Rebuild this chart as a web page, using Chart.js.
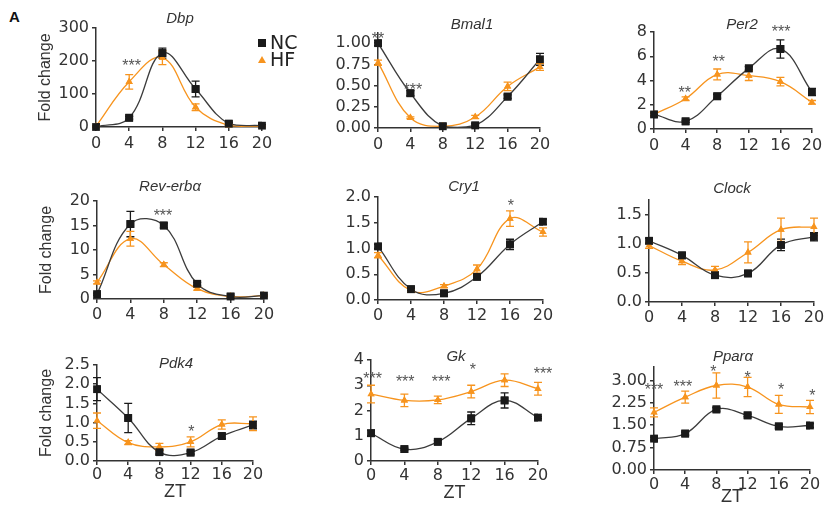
<!DOCTYPE html>
<html>
<head>
<meta charset="utf-8">
<script src="https://cdn.jsdelivr.net/npm/chart.js@4"></script>
<style>
  body { margin: 0; width: 824px; height: 512px; position: relative; overflow: hidden; background: #fff; font-family: "Liberation Sans", Arial, sans-serif; }
  canvas { position: absolute; }
  #panel-label { position: absolute; left: 9px; top: 8px; font-size: 15px; font-weight: bold; color: #111; }
</style>
</head>
<body>
<div id="panel-label">A</div>
<script>
// ZT sampling times (x axis)
const ZT = [0, 4, 8, 12, 16, 20];

// Dbp
const dbpNC = [0, 28, 224, 115, 10, 4];
const dbpNCErr = [0, 4, 15, 24, 4, 3];
const dbpHF = [2, 137, 210, 60, 5, 2];
const dbpHFErr = [2, 22, 21, 10, 2, 1];
const dbpStars = [[4.3, 198, '***']];

// Bmal1
const bmalNC = [1.0, 0.41, 0.02, 0.03, 0.37, 0.81];
const bmalNCErr = [0.03, 0.03, 0.01, 0.02, 0.02, 0.07];
const bmalHF = [0.77, 0.12, 0.02, 0.13, 0.49, 0.72];
const bmalHFErr = [0.03, 0.01, 0.01, 0.02, 0.05, 0.04];
const bmalStars = [[0, 1.1, '**'], [4.3, 0.5, '***']];

// Per2
const per2NC = [1.2, 0.63, 2.7, 5.0, 6.6, 3.05];
const per2NCErr = [0.1, 0.08, 0.15, 0.15, 0.75, 0.3];
const per2HF = [1.2, 2.5, 4.5, 4.4, 3.9, 2.2];
const per2HFErr = [0.1, 0.15, 0.45, 0.4, 0.35, 0.15];
const per2Stars = [[3.9, 3.3, '**'], [8.2, 5.85, '**'], [16.1, 8.3, '***']];

// Rev-erbα
const revNC = [1.0, 15.3, 15.0, 3.1, 0.5, 0.7];
const revNCErr = [0.2, 2.6, 0.5, 0.3, 0.1, 0.1];
const revHF = [3.4, 12.3, 7.0, 2.1, 0.5, 0.7];
const revHFErr = [0.3, 1.5, 0.4, 0.3, 0.1, 0.1];
const revStars = [[7.9, 17.8, '***']];

// Cry1
const cry1NC = [1.04, 0.21, 0.13, 0.45, 1.08, 1.52];
const cry1NCErr = [0.04, 0.02, 0.02, 0.03, 0.1, 0.05];
const cry1HF = [0.87, 0.18, 0.27, 0.6, 1.58, 1.32];
const cry1HFErr = [0.05, 0.02, 0.03, 0.08, 0.15, 0.08];
const cry1Stars = [[16.1, 1.9, '*']];

// Clock
const clockNC = [1.05, 0.8, 0.46, 0.49, 0.98, 1.12];
const clockNCErr = [0.04, 0.04, 0.03, 0.04, 0.1, 0.07];
const clockHF = [0.97, 0.7, 0.55, 0.85, 1.24, 1.29];
const clockHFErr = [0.05, 0.06, 0.06, 0.18, 0.2, 0.15];
const clockStars = [];

// Pdk4
const pdk4NC = [1.87, 1.12, 0.23, 0.22, 0.65, 0.94];
const pdk4NCErr = [0.3, 0.38, 0.05, 0.04, 0.07, 0.1];
const pdk4HF = [1.05, 0.48, 0.37, 0.5, 0.95, 0.97];
const pdk4HFErr = [0.2, 0.05, 0.09, 0.13, 0.12, 0.18];
const pdk4Stars = [[12.1, 0.86, '*']];

// Gk
const gkNC = [1.1, 0.47, 0.76, 1.69, 2.4, 1.72];
const gkNCErr = [0.12, 0.04, 0.05, 0.25, 0.3, 0.04];
const gkHF = [2.65, 2.4, 2.42, 2.75, 3.2, 2.86];
const gkHFErr = [0.35, 0.25, 0.15, 0.25, 0.25, 0.25];
const gkStars = [[0.2, 3.4, '***'], [4.1, 3.3, '***'], [8.4, 3.3, '***'], [12.2, 3.75, '*'], [20.6, 3.6, '***']];

// Pparα
const pparNC = [1.05, 1.22, 2.03, 1.83, 1.46, 1.49];
const pparNCErr = [0.05, 0.05, 0.06, 0.04, 0.06, 0.06];
const pparHF = [1.93, 2.44, 2.83, 2.78, 2.2, 2.11];
const pparHFErr = [0.15, 0.2, 0.42, 0.32, 0.3, 0.22];
const pparStars = [[0, 2.8, '***'], [3.7, 2.9, '***'], [7.6, 3.43, '*'], [12, 3.23, '*'], [16.3, 2.8, '*'], [20.3, 2.6, '*']];

const NC_COLOR = '#1a1a1a';
const NC_LINE = '#3c3c3c';
const HF_COLOR = '#f7941e';
const AXIS_COLOR = '#333';

const panels = [
    { title: 'Dbp', nc: dbpNC, ncErr: dbpNCErr, hf: dbpHF, hfErr: dbpHFErr, stars: dbpStars,
      max: 300, step: 100, dec: 0, x0: 96, x20: 262, top: 28, bottom: 127, xH: 30, tickPad: 3,
      yTitle: true, titleAt: [180, 19], legend: true, padR: 48 },
    { title: 'Bmal1', nc: bmalNC, ncErr: bmalNCErr, hf: bmalHF, hfErr: bmalHFErr, stars: bmalStars,
      max: 1.12, step: 0.25, dec: 2, x0: 378, x20: 540, top: 33, bottom: 128, xH: 30, tickPad: 3,
      titleAt: [472, 25] },
    { title: 'Per2', nc: per2NC, ncErr: per2NCErr, hf: per2HF, hfErr: per2HFErr, stars: per2Stars,
      max: 8, step: 2, dec: 0, x0: 654, x20: 812, top: 32, bottom: 129, xH: 30, tickPad: 3,
      titleAt: [742, 25] },
    { title: 'Rev-erbα', nc: revNC, ncErr: revNCErr, hf: revHF, hfErr: revHFErr, stars: revStars,
      max: 20, step: 5, dec: 0, x0: 97, x20: 264, top: 201, bottom: 299, xH: 30, tickPad: 2,
      yTitle: true, titleAt: [170, 187] },
    { title: 'Cry1', nc: cry1NC, ncErr: cry1NCErr, hf: cry1HF, hfErr: cry1HFErr, stars: cry1Stars,
      max: 2, step: 0.5, dec: 1, x0: 378, x20: 543, top: 197, bottom: 300, xH: 30, tickPad: 2,
      titleAt: [464, 187] },
    { title: 'Clock', nc: clockNC, ncErr: clockNCErr, hf: clockHF, hfErr: clockHFErr, stars: clockStars,
      max: 1.75, step: 0.5, dec: 1, x0: 649, x20: 814, top: 200, bottom: 302, xH: 30, tickPad: 2,
      titleAt: [732, 189] },
    { title: 'Pdk4', nc: pdk4NC, ncErr: pdk4NCErr, hf: pdk4HF, hfErr: pdk4HFErr, stars: pdk4Stars,
      max: 2.5, step: 0.5, dec: 1, x0: 97, x20: 253, top: 365, bottom: 461, xH: 46, tickPad: 0,
      yTitle: true, xTitle: true, titleAt: [176, 364] },
    { title: 'Gk', nc: gkNC, ncErr: gkNCErr, hf: gkHF, hfErr: gkHFErr, stars: gkStars,
      max: 4, step: 1, dec: 0, x0: 371, x20: 538, top: 360, bottom: 461, xH: 47, tickPad: 1,
      xTitle: true, titleAt: [456, 357] },
    { title: 'Pparα', nc: pparNC, ncErr: pparNCErr, hf: pparHF, hfErr: pparHFErr, stars: pparStars,
      max: 3.45, step: 0.75, dec: 2, x0: 654, x20: 810, top: 367, bottom: 470, xH: 42, tickPad: 1,
      xTitle: true, titleAt: [733, 357] }
];

const Y_W = 64;
const PAD_T = 34;

// error bars, redrawn markers, stars, gene title and legend
const extras = {
    id: 'extras',
    afterDatasetsDraw(chart, args, opts) {
        const ctx = chart.ctx;
        const y = chart.scales.y;
        ctx.save();
        chart.data.datasets.forEach((ds, di) => {
            const meta = chart.getDatasetMeta(di);
            ctx.strokeStyle = ds.pointBackgroundColor;
            ctx.lineWidth = 1.3;
            meta.data.forEach((pt, i) => {
                const v = ds.data[i].y, e = ds.errors[i];
                if (!e) return;
                const y1 = y.getPixelForValue(v + e), y2 = y.getPixelForValue(Math.max(v - e, 0));
                ctx.beginPath();
                ctx.moveTo(pt.x, y1); ctx.lineTo(pt.x, y2);
                ctx.moveTo(pt.x - 4, y1); ctx.lineTo(pt.x + 4, y1);
                ctx.moveTo(pt.x - 4, y2); ctx.lineTo(pt.x + 4, y2);
                ctx.stroke();
            });
        });
        // markers again without the clip
        for (let di = chart.data.datasets.length - 1; di >= 0; di--) {
            chart.getDatasetMeta(di).data.forEach(pt => pt.draw(ctx));
        }

        ctx.fillStyle = '#555';
        ctx.font = '16px "Liberation Sans", Arial, sans-serif';
        ctx.textAlign = 'center';
        ctx.textBaseline = 'alphabetic';
        opts.stars.forEach(s => {
            ctx.fillText(s[2], chart.scales.x.getPixelForValue(s[0]), y.getPixelForValue(s[1]) + 9);
        });

        ctx.fillStyle = '#333';
        ctx.font = 'italic 15px "Liberation Sans", Arial, sans-serif';
        ctx.textBaseline = 'middle';
        ctx.fillText(opts.title, opts.titleAt[0] - opts.left, opts.titleAt[1] - opts.top);

        if (opts.legend) {
            const lx = 262 - opts.left, ly1 = 43 - opts.top, ly2 = 60 - opts.top;
            ctx.fillStyle = NC_COLOR;
            ctx.fillRect(lx - 4, ly1 - 4, 8, 8);
            ctx.fillStyle = HF_COLOR;
            ctx.beginPath();
            ctx.moveTo(lx, ly2 - 4); ctx.lineTo(lx + 4, ly2 + 3); ctx.lineTo(lx - 4, ly2 + 3);
            ctx.closePath(); ctx.fill();
            ctx.fillStyle = '#222';
            ctx.font = '19px "DejaVu Sans", sans-serif';
            ctx.textAlign = 'left';
            ctx.fillText('NC', lx + 8, ly1 + 1);
            ctx.fillText('HF', lx + 8, ly2 + 1);
        }
        ctx.restore();
    }
};

const tickFont = { family: '"DejaVu Sans", sans-serif', size: 16 };

panels.forEach(p => {
    const canvas = document.createElement('canvas');
    const padR = p.padR || 14;
    const left = p.x0 - Y_W;
    const top = p.top - PAD_T;
    const width = p.x20 + padR - left;
    const height = p.bottom + p.xH - top;
    canvas.width = width;
    canvas.height = height;
    canvas.style.left = left + 'px';
    canvas.style.top = top + 'px';
    canvas.style.width = width + 'px';
    canvas.style.height = height + 'px';
    document.body.appendChild(canvas);

    const toPoints = arr => ZT.map((x, i) => ({ x: x, y: arr[i] }));

    new Chart(canvas, {
        type: 'line',
        data: {
            datasets: [{
                label: 'NC',
                data: toPoints(p.nc),
                errors: p.ncErr,
                borderColor: NC_LINE,
                borderWidth: 1.3,
                pointStyle: 'rect',
                pointRadius: 5.5,
                pointBackgroundColor: NC_COLOR,
                pointBorderColor: NC_COLOR,
                pointBorderWidth: 0,
                tension: 0.4,
                clip: 0
            }, {
                label: 'HF',
                data: toPoints(p.hf),
                errors: p.hfErr,
                borderColor: HF_COLOR,
                borderWidth: 1.3,
                pointStyle: 'triangle',
                pointRadius: 4.2,
                pointBackgroundColor: HF_COLOR,
                pointBorderColor: HF_COLOR,
                pointBorderWidth: 0,
                tension: 0.4,
                clip: 0
            }]
        },
        options: {
            responsive: false,
            animation: false,
            devicePixelRatio: 1,
            layout: { padding: { top: PAD_T, right: padR, left: 0, bottom: 0 } },
            scales: {
                x: {
                    type: 'linear',
                    min: 0,
                    max: 20,
                    ticks: { stepSize: 4, font: tickFont, color: '#333', padding: p.tickPad, maxRotation: 0, autoSkip: false },
                    grid: { drawOnChartArea: false, drawTicks: true, tickLength: 4, color: AXIS_COLOR, lineWidth: 1.5 },
                    border: { color: AXIS_COLOR, width: 1.5 },
                    title: {
                        display: !!p.xTitle,
                        text: 'ZT',
                        color: '#333',
                        font: { family: '"Liberation Sans", Arial, sans-serif', size: 18 }
                    },
                    afterFit: s => { s.height = p.xH; }
                },
                y: {
                    type: 'linear',
                    min: 0,
                    max: p.max,
                    ticks: {
                        stepSize: p.step,
                        includeBounds: false,
                        autoSkip: false,
                        font: tickFont,
                        color: '#333',
                        padding: 3,
                        callback: v => Number(v).toFixed(p.dec)
                    },
                    afterBuildTicks: s => {
                        s.ticks = s.ticks.filter(t => Math.abs(t.value / p.step - Math.round(t.value / p.step)) < 1e-6);
                    },
                    grid: { drawOnChartArea: false, drawTicks: true, tickLength: 4, color: AXIS_COLOR, lineWidth: 1.5 },
                    border: { color: AXIS_COLOR, width: 1.5 },
                    title: {
                        display: !!p.yTitle,
                        text: 'Fold change',
                        color: '#333',
                        font: { family: '"Liberation Sans", Arial, sans-serif', size: 16 }
                    },
                    afterFit: s => { s.width = Y_W; }
                }
            },
            plugins: {
                legend: { display: false },
                tooltip: { enabled: false },
                extras: {
                    stars: p.stars,
                    title: p.title,
                    titleAt: p.titleAt,
                    legend: !!p.legend,
                    left: left,
                    top: top
                }
            }
        },
        plugins: [extras]
    });
});
</script>
</body>
</html>
